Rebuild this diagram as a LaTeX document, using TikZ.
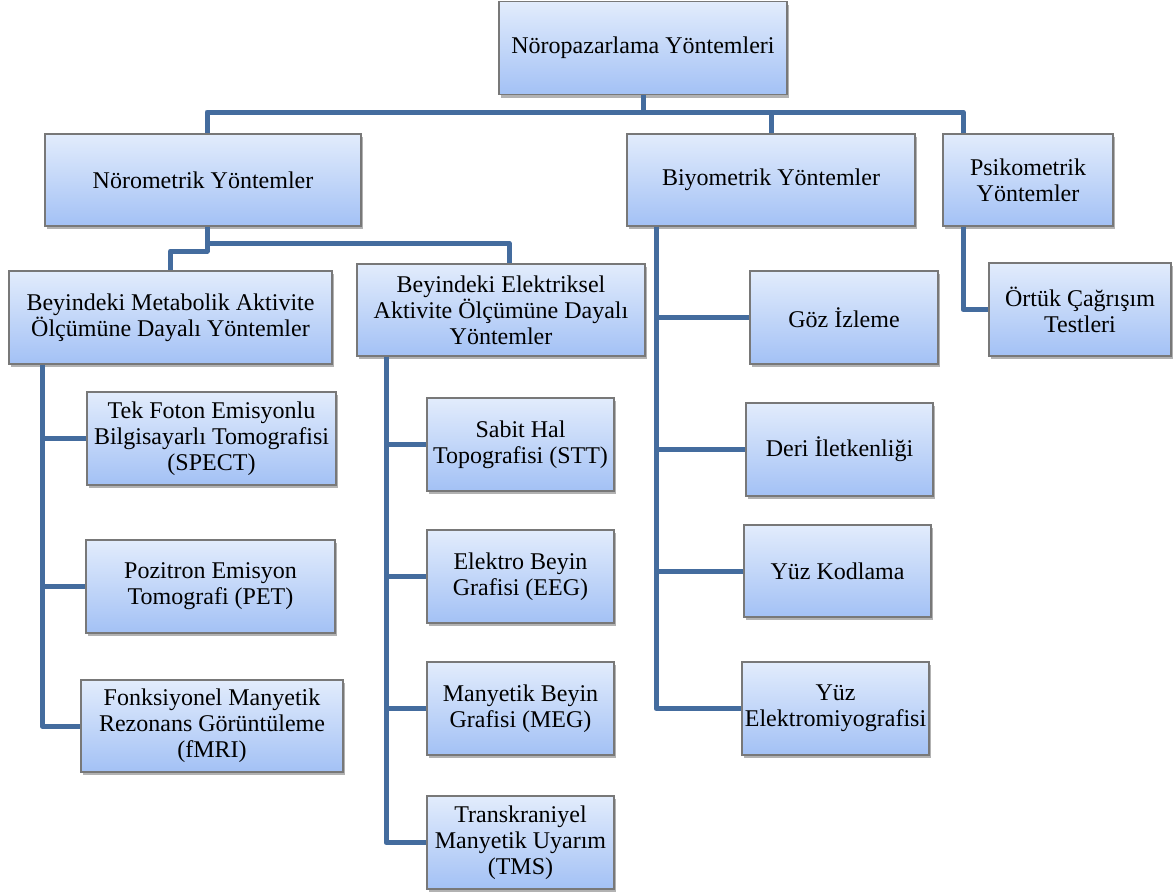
\documentclass[tikz,border=0pt]{standalone}
\usepackage{fontspec}
\setmainfont{Liberation Serif}
\newfontfamily\boxfont{Liberation Serif}
\usetikzlibrary{shadows}
\definecolor{boxtop}{RGB}{226,236,252}
\definecolor{boxbot}{RGB}{163,193,245}
\definecolor{linec}{RGB}{68,108,158}
\definecolor{bordc}{RGB}{120,120,120}
\tikzset{
  box/.style={draw=bordc, line width=1.2pt, top color=boxtop, bottom color=boxbot,
    drop shadow={shadow xshift=2pt, shadow yshift=-3pt, fill=black, opacity=0.3},
    align=center, inner sep=2pt, font=\boxfont\fontsize{24}{26}\selectfont},
  conn/.style={draw=linec, line width=5pt, line join=round}
}
\begin{document}
\begin{tikzpicture}[x=1pt,y=-1pt]
\useasboundingbox (0,0) rectangle (1173,892);
% level 0
\node[box, minimum width=288pt, minimum height=93pt] (top) at (643,48) {Nöropazarlama Yöntemleri};
% level 1
\node[box, minimum width=316pt, minimum height=92pt] (nor) at (203,180) {Nörometrik Yöntemler};
\node[box, minimum width=288pt, minimum height=92pt] (bio) at (771,180) {Biyometrik Yöntemler};
\node[box, minimum width=170pt, minimum height=92pt] (psi) at (1028,180) {Psikometrik\\Yöntemler};
% level 2
\node[box, minimum width=323pt, minimum height=93pt] (met) at (170.5,317.5) {Beyindeki Metabolik Aktivite\\Ölçümüne Dayalı Yöntemler};
\node[box, minimum width=288pt, minimum height=92pt] (ele) at (501,310) {Beyindeki Elektriksel\\Aktivite Ölçümüne Dayalı\\Yöntemler};
% metabolik children
\node[box, minimum width=249pt, minimum height=93pt] (spect) at (211.5,438.5) {Tek Foton Emisyonlu\\Bilgisayarlı Tomografisi\\(SPECT)};
\node[box, minimum width=249pt, minimum height=93pt] (pet) at (210.5,586.5) {Pozitron Emisyon\\Tomografi (PET)};
\node[box, minimum width=262pt, minimum height=92pt] (fmri) at (212,726) {Fonksiyonel Manyetik\\Rezonans Görüntüleme\\(fMRI)};
% elektriksel children
\node[box, minimum width=187pt, minimum height=93pt] (stt) at (520.5,444.5) {Sabit Hal\\Topografisi (STT)};
\node[box, minimum width=187pt, minimum height=93pt] (eeg) at (520.5,576.5) {Elektro Beyin\\Grafisi (EEG)};
\node[box, minimum width=187pt, minimum height=93pt] (meg) at (520.5,708.5) {Manyetik Beyin\\Grafisi (MEG)};
\node[box, minimum width=187pt, minimum height=93pt] (tms) at (520.5,842.5) {Transkraniyel\\Manyetik Uyarım\\(TMS)};
% biyometrik children
\node[box, minimum width=188pt, minimum height=93pt] (goz) at (844,317.5) {Göz İzleme};
\node[box, minimum width=187pt, minimum height=93pt] (deri) at (839.5,449.5) {Deri İletkenliği};
\node[box, minimum width=187pt, minimum height=92pt] (yuzk) at (837.5,571) {Yüz Kodlama};
\node[box, minimum width=187pt, minimum height=93pt] (yuze) at (835.5,708.5) {Yüz\\Elektromiyografisi};
% psikometrik child
\node[box, minimum width=182pt, minimum height=93pt] (ort) at (1080,309.5) {Örtük Çağrışım\\Testleri};
% junction coordinates
\coordinate (jt) at (643,112);
\coordinate (jn) at (207,243);
\coordinate (jn2) at (207,251);
\coordinate (mv) at (42,364);
\coordinate (ev) at (386,356);
\coordinate (bv) at (656,226);
\coordinate (pv) at (963,226);
% connectors
\draw[conn] (top.south) -- (jt) -| ([xshift=4pt]nor.north);
\draw[conn] (jt) -| (bio.north);
\draw[conn] (jt) -| ([xshift=-65pt]psi.north);
\draw[conn] ([xshift=4pt]nor.south) -- (jn) -| ([xshift=8pt]ele.north);
\draw[conn] (jn) -- (jn2) -| (met.north);
\draw[conn] (met.south -| mv) |- (fmri.west);
\draw[conn] (mv |- spect.west) -- (spect.west);
\draw[conn] (mv |- pet.west) -- (pet.west);
\draw[conn] (ele.south -| ev) |- (tms.west);
\draw[conn] (ev |- stt.west) -- (stt.west);
\draw[conn] (ev |- eeg.west) -- (eeg.west);
\draw[conn] (ev |- meg.west) -- (meg.west);
\draw[conn] (bio.south -| bv) |- (yuze.west);
\draw[conn] (bv |- goz.west) -- (goz.west);
\draw[conn] (bv |- deri.west) -- (deri.west);
\draw[conn] (bv |- yuzk.west) -- (yuzk.west);
\draw[conn] (psi.south -| pv) |- (ort.west);
\end{tikzpicture}
\end{document}
